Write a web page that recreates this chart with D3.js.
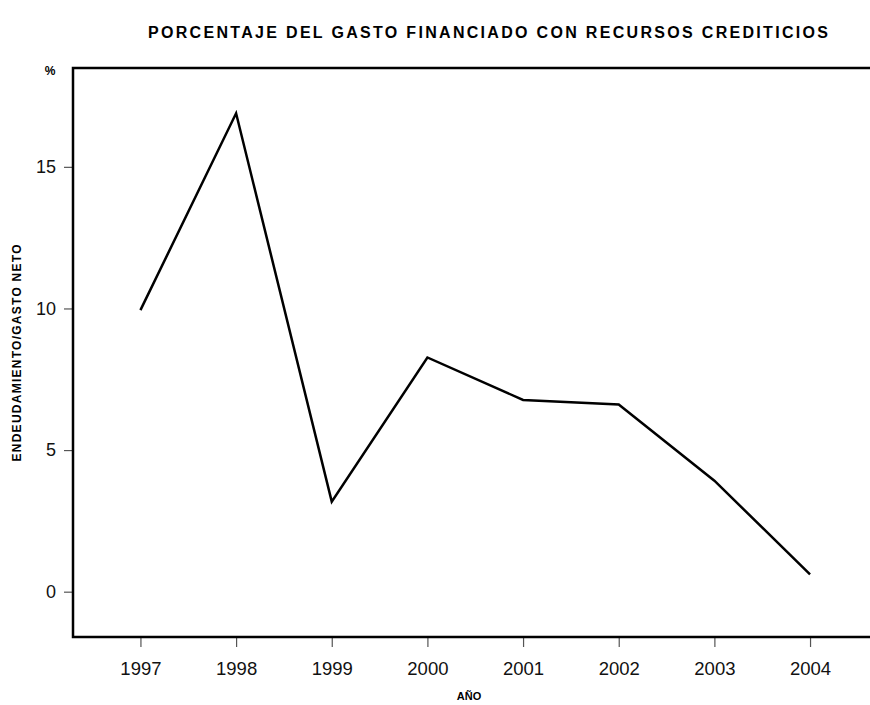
<!DOCTYPE html>
<html>
<head>
<meta charset="utf-8">
<script src="https://cdn.jsdelivr.net/npm/d3@7"></script>
<style>
  body { margin: 0; background: #fff; }
  svg { font-family: "Liberation Sans", Arial, sans-serif; }
</style>
</head>
<body>
<svg id="chart" width="870" height="705"></svg>
<script>
// valores
var years = [1997, 1998, 1999, 2000, 2001, 2002, 2003, 2004];
var pct = [9.94, 16.89, 3.18, 8.27, 6.77, 6.61, 3.92, 0.61];
var yTicks = [0, 5, 10, 15];

var width = 870, height = 705;
var mLeft = 73, mTop = 68, mRight = 870, mBottom = 637;

var svg = d3.select("#chart");

var x = d3.scaleLinear()
    .domain([1996.295, 2004.7])
    .range([mLeft, 877]);
var y = d3.scaleLinear()
    .domain([-1.6, 18.49])
    .range([mBottom, mTop]);

// ejes
var yAxis = d3.axisLeft(y).tickValues(yTicks).tickSize(9).tickPadding(8);
var xAxis = d3.axisBottom(x).tickValues(years).tickSize(10).tickPadding(15)
    .tickFormat(d3.format("d"));

var gy = svg.append("g").attr("transform", "translate(" + mLeft + ",0)").call(yAxis);
gy.select(".domain").remove();
gy.selectAll(".tick line").attr("stroke", "#555").attr("stroke-width", 1.2);
gy.selectAll(".tick text").attr("font-size", 18).attr("fill", "#111")
    .attr("font-family", "Liberation Sans, Arial, sans-serif");

var gx = svg.append("g").attr("transform", "translate(0," + mBottom + ")").call(xAxis);
gx.select(".domain").remove();
gx.selectAll(".tick line").attr("stroke", "#555").attr("stroke-width", 1.2);
gx.selectAll(".tick text").attr("font-size", 18.5).attr("fill", "#111")
    .attr("font-family", "Liberation Sans, Arial, sans-serif");

// marco: izquierda, arriba y abajo
svg.append("path")
    .attr("d", "M" + mRight + "," + mTop + "H" + mLeft + "V" + mBottom + "H" + mRight)
    .attr("fill", "none")
    .attr("stroke", "#000")
    .attr("stroke-width", 2.5);

// serie
var line = d3.line()
    .x(function (d, i) { return x(years[i]); })
    .y(function (d) { return y(d); });

svg.append("path")
    .datum(pct)
    .attr("d", line)
    .attr("fill", "none")
    .attr("stroke", "#000")
    .attr("stroke-width", 2.5);

// textos
svg.append("text")
    .attr("x", 488).attr("y", 38)
    .attr("text-anchor", "middle")
    .attr("font-size", 16).attr("font-weight", "bold")
    .attr("textLength", 680).attr("lengthAdjust", "spacing")
    .text("PORCENTAJE DEL GASTO FINANCIADO CON RECURSOS CREDITICIOS");

svg.append("text")
    .attr("x", 50).attr("y", 75)
    .attr("text-anchor", "middle")
    .attr("font-size", 12).attr("font-weight", "bold")
    .text("%");

svg.append("text")
    .attr("transform", "translate(21,353) rotate(-90)")
    .attr("text-anchor", "middle")
    .attr("font-size", 12).attr("font-weight", "bold")
    .attr("textLength", 217).attr("lengthAdjust", "spacing")
    .text("ENDEUDAMIENTO/GASTO NETO");

svg.append("text")
    .attr("x", 469).attr("y", 700)
    .attr("text-anchor", "middle")
    .attr("font-size", 11).attr("font-weight", "bold")
    .text("AÑO");
</script>
</body>
</html>
